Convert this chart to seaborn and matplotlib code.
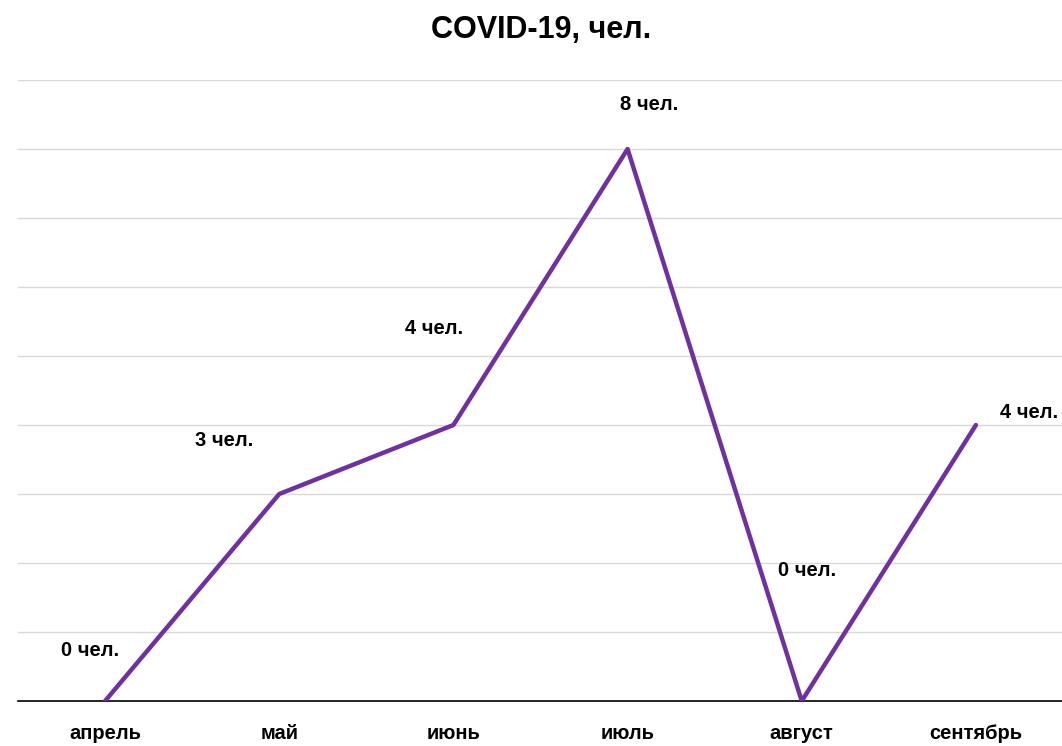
import matplotlib
matplotlib.use("Agg")
import matplotlib.pyplot as plt
import seaborn as sns
import pandas as pd

months = ["апрель", "май", "июнь", "июль", "август", "сентябрь"]
cases = [0, 3, 4, 8, 0, 4]
labels = ["0 чел.", "3 чел.", "4 чел.", "8 чел.", "0 чел.", "4 чел."]
label_offsets = [(-15, 51), (-55, 54), (-19, 97), (22, 44), (5, 131), (53, 13)]

sns.set_theme(style="white")
plt.rcParams['font.family'] = ['Liberation Sans', 'DejaVu Sans']
plt.rcParams['text.color'] = 'black'
plt.rcParams['xtick.color'] = 'black'

df = pd.DataFrame({"month": months, "cases": cases})

fig = plt.figure(figsize=(10.62, 7.46), dpi=100)
ax = fig.add_axes([18/1062, 1 - 701/746, 1 - 17/1062, (701 - 80)/746])

sns.lineplot(data=df, x="month", y="cases", sort=False, color="#7030A0",
             linewidth=3.2, ax=ax, zorder=3)

ax.set_xlim(-0.5, 5.5)
ax.set_ylim(0, 9)
ax.set_yticks(range(0, 10))
ax.yaxis.grid(True, color="#d9d9d9", linewidth=1.0)
ax.xaxis.grid(False)
ax.tick_params(axis="y", left=False, labelleft=False)
ax.tick_params(axis="x", bottom=False, length=0, pad=27.5, labelsize=14.5,
               labelcolor="black")
for t in ax.get_xticklabels():
    t.set_fontweight("bold")
    t.set_verticalalignment("baseline")
for s in ["top", "right", "left"]:
    ax.spines[s].set_visible(False)
ax.spines["bottom"].set_color("#000000")
ax.spines["bottom"].set_linewidth(1.2)
ax.set_xlabel("")
ax.set_ylabel("")

for i, (v, lab, off) in enumerate(zip(cases, labels, label_offsets)):
    ax.annotate(lab, xy=(i, v), xytext=off, textcoords="offset pixels",
                ha="center", va="center", fontsize=14.5, fontweight="bold",
                color="black", annotation_clip=False)

fig.text(0.51, 1 - 30/746, "COVID-19, чел.", ha="center", va="center",
         fontsize=22, fontweight="bold", color="black")

fig.savefig("out.png", dpi=100)
